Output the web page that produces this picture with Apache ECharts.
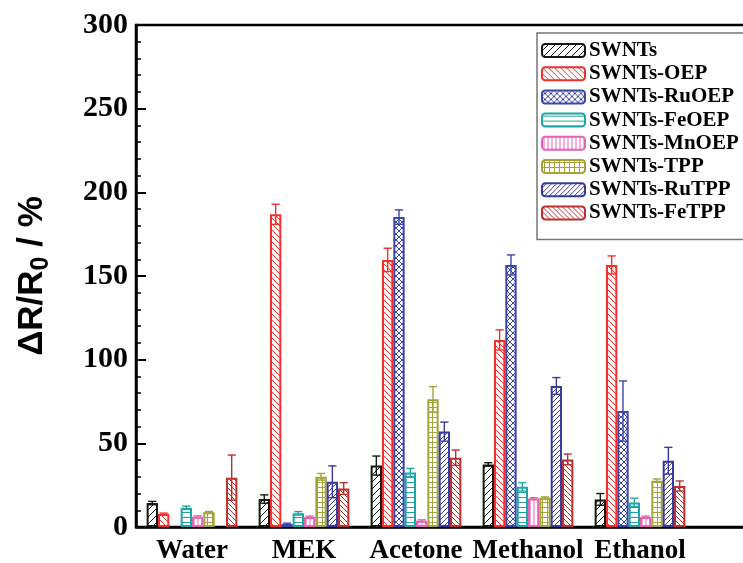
<!DOCTYPE html>
<html>
<head>
<meta charset="utf-8">
<script src="https://cdn.jsdelivr.net/npm/echarts@6/dist/echarts.min.js"></script>
<style>
  html, body { margin: 0; padding: 0; background: #fff; }
  #chart { width: 743px; height: 563px; }
</style>
</head>
<body>
<div id="chart"></div>
<script>
// solvents on the x axis
const categories = ['Water', 'MEK', 'Acetone', 'Methanol', 'Ethanol']
const seriesNames = ['SWNTs', 'SWNTs-OEP', 'SWNTs-RuOEP', 'SWNTs-FeOEP', 'SWNTs-MnOEP', 'SWNTs-TPP', 'SWNTs-RuTPP', 'SWNTs-FeTPP']

// response values (%), null = no bar
const swnts = [14.3, 16.7, 36.7, 37.4, 16.5]
const swntsOEP = [7.8, 186.9, 159.6, 111.8, 156.6]
const swntsRuOEP = [null, 1.8, 185.2, 156.6, 69.3]
const swntsFeOEP = [11.5, 8.2, 32.5, 24, 14.7]
const swntsMnOEP = [6.2, 6, 3.8, 17, 6]
const swntsTPP = [8.8, 30, 76.3, 17.5, 27.7]
const swntsRuTPP = [null, 27, 57, 84.3, 39.6]
const swntsFeTPP = [29.5, 23, 41.4, 40.4, 24.5]

// error bar half-heights
const errSWNTs = [1, 2.5, 5.7, 1, 3.5]
const errOEP = [0.5, 6, 7, 6, 5.4]
const errRuOEP = [0, 0.5, 4.3, 6, 18]
const errFeOEP = [1, 1, 2.5, 2.5, 2.5]
const errMnOEP = [0.5, 0.5, 0.5, 0.5, 0.5]
const errTPP = [0.5, 2, 7.6, 0.5, 1]
const errRuTPP = [0, 9.5, 5.7, 5, 8]
const errFeTPP = [13.5, 3.5, 4.6, 3.2, 3]

const values = [swnts, swntsOEP, swntsRuOEP, swntsFeOEP, swntsMnOEP, swntsTPP, swntsRuTPP, swntsFeTPP]
const errors = [errSWNTs, errOEP, errRuOEP, errFeOEP, errMnOEP, errTPP, errRuTPP, errFeTPP]
const colors = ['#151515', '#f0302c', '#3c45a8', '#1ea6a6', '#e563b6', '#a3a33a', '#363a9c', '#b8312f']
// fill pattern kind and spacing for each series
const hatches = [['/', 7], ['\\', 6], ['x', 6], ['-', 5], ['|', 4], ['+', 5], ['/', 5], ['\\', 5]]

const CAT_GAP = 0.19

function makeHatch (kind, s, color) {
  const c = document.createElement('canvas')
  c.width = s
  c.height = s
  const g = c.getContext('2d')
  g.fillStyle = '#fff'
  g.fillRect(0, 0, s, s)
  g.strokeStyle = color
  g.lineWidth = 1
  g.beginPath()
  if (kind === '/' || kind === 'x') {
    for (let k = -1; k <= 1; k++) { g.moveTo(k * s, s); g.lineTo(k * s + s, 0) }
  }
  if (kind === '\\' || kind === 'x') {
    for (let k = -1; k <= 1; k++) { g.moveTo(k * s, 0); g.lineTo(k * s + s, s) }
  }
  if (kind === '-' || kind === '+') { g.moveTo(0, s / 2); g.lineTo(s, s / 2) }
  if (kind === '|' || kind === '+') { g.moveTo(s / 2, 0); g.lineTo(s / 2, s) }
  g.stroke()
  return c
}

const chart = echarts.init(document.getElementById('chart'))

const serif = 'Liberation Serif'
const series = []
seriesNames.forEach((name, i) => {
  series.push({
    name: name,
    type: 'bar',
    barGap: 0,
    barCategoryGap: (CAT_GAP * 100) + '%',
    data: values[i],
    itemStyle: {
      color: { image: makeHatch(hatches[i][0], hatches[i][1], colors[i]), repeat: 'repeat' },
      borderColor: colors[i],
      borderWidth: 2
    }
  })
})
seriesNames.forEach((name, i) => {
  const errData = []
  values[i].forEach((v, j) => {
    if (v !== null) errData.push([j, v, errors[i][j]])
  })
  series.push({
    name: name + ' err',
    type: 'custom',
    data: errData,
    z: 3,
    renderItem (params, api) {
      const cat = api.value(0)
      const v = api.value(1)
      const e = api.value(2)
      const band = api.size([1, 0])[0]
      const barW = band * (1 - CAT_GAP) / seriesNames.length
      const x = api.coord([cat, 0])[0] + (i - (seriesNames.length - 1) / 2) * barW
      const yTop = api.coord([cat, v + e])[1]
      const yBot = api.coord([cat, v - e])[1]
      const cap = barW * 0.36
      const st = { stroke: colors[i], lineWidth: 1.4 }
      return {
        type: 'group',
        children: [
          { type: 'line', shape: { x1: x, y1: yTop, x2: x, y2: yBot }, style: st },
          { type: 'line', shape: { x1: x - cap, y1: yTop, x2: x + cap, y2: yTop }, style: st },
          { type: 'line', shape: { x1: x - cap, y1: yBot, x2: x + cap, y2: yBot }, style: st }
        ]
      }
    }
  })
})

const option = {
  backgroundColor: '#fff',
  animation: false,
  grid: {
    left: 136,
    top: 25,
    width: 672,
    bottom: 36,
    outerBoundsMode: 'none',
    show: true,
    borderColor: '#000',
    borderWidth: 2.5,
    backgroundColor: 'transparent'
  },
  legend: {
    data: seriesNames,
    orient: 'vertical',
    left: 537,
    top: 33,
    padding: [6, 30, 15, 4],
    itemWidth: 43,
    itemHeight: 13,
    itemGap: 0.2,
    borderColor: '#777',
    borderWidth: 1.5,
    backgroundColor: '#fff',
    selectedMode: false,
    textStyle: {
      fontFamily: serif,
      fontWeight: 'bold',
      fontSize: 21,
      color: '#000',
      lineHeight: 23,
      padding: [0, 0, 0, -1]
    }
  },
  xAxis: {
    type: 'category',
    data: categories.concat(['']),
    axisLine: { lineStyle: { color: '#000', width: 2.5 } },
    axisTick: { inside: true, length: 5, lineStyle: { color: '#000', width: 2 } },
    axisLabel: {
      interval: 0,
      fontFamily: serif,
      fontWeight: 'bold',
      fontSize: 27,
      color: '#000',
      margin: 11
    },
    splitLine: { show: false }
  },
  yAxis: {
    type: 'value',
    min: 0,
    max: 300,
    interval: 50,
    name: '{a|ΔR/R}{s|0}{a| / %}',
    nameLocation: 'middle',
    nameRotate: 90,
    nameGap: 82,
    nameTextStyle: {
      rich: {
        a: { fontFamily: 'Liberation Sans', fontWeight: 'bold', fontSize: 35, color: '#000' },
        s: { fontFamily: 'Liberation Sans', fontWeight: 'bold', fontSize: 25, color: '#000', padding: [18, 0, 0, 0] }
      }
    },
    axisLine: { show: true, lineStyle: { color: '#000', width: 2.5 } },
    axisTick: { show: true, inside: true, length: 10, lineStyle: { color: '#000', width: 2 } },
    minorTick: { show: true, splitNumber: 5, length: 5, lineStyle: { color: '#000', width: 1.5 } },
    axisLabel: {
      fontFamily: serif,
      fontWeight: 'bold',
      fontSize: 30,
      color: '#000',
      margin: 8
    },
    splitLine: { show: false }
  },
  series: series
}

chart.setOption(option)
</script>
</body>
</html>
